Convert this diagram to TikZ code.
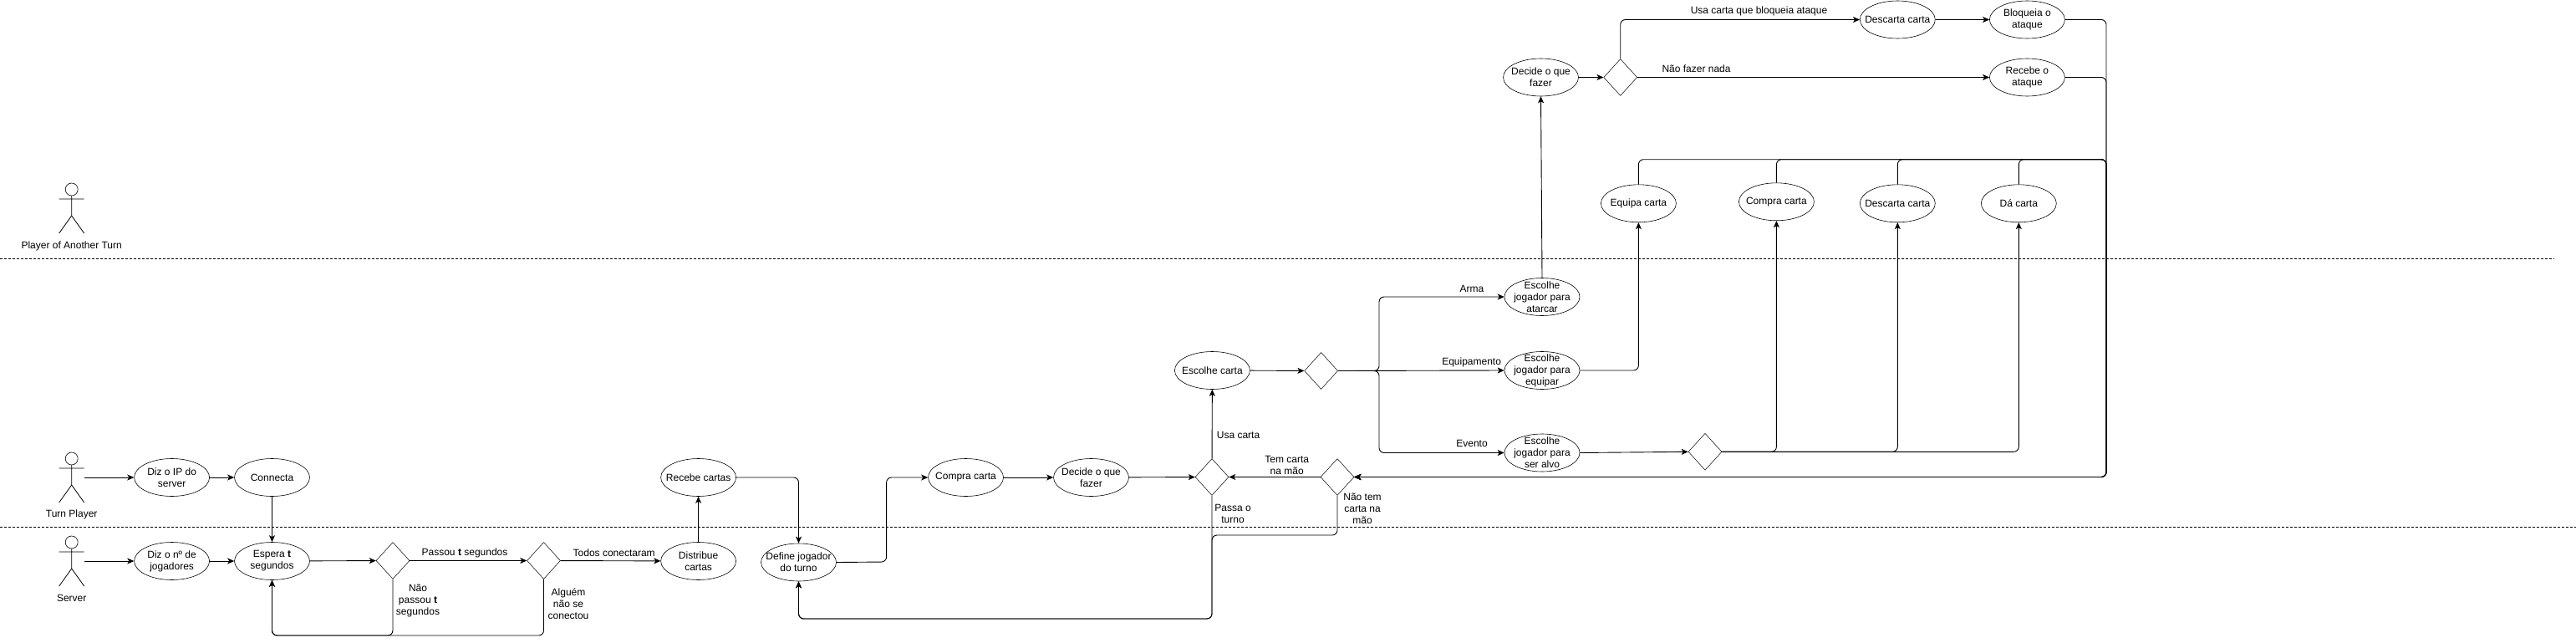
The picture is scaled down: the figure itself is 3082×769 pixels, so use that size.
\documentclass[tikz,border=0pt]{standalone}
\usepackage{fontspec}
\setmainfont{Liberation Sans}
\usetikzlibrary{shapes.geometric,arrows.meta}
\tikzset{
  act/.style={draw,ellipse,minimum width=90bp,minimum height=45bp,inner sep=-15bp,align=center,line width=0.6bp},
  dec/.style={draw,diamond,minimum width=40bp,minimum height=44bp,inner sep=0pt,line width=0.5bp},
  lbl/.style={align=center,inner sep=0pt},
  sep/.style={dashed,dash pattern=on 3bp off 2bp,line width=0.7bp},
  link/.style={->,line width=0.9bp,rounded corners=6bp},
  actor/.pic={
    \draw[line width=0.6bp] (0,7.5) circle[radius=7.5bp];
    \draw[line width=0.8bp] (0,15) -- (0,39) (-15,19) -- (15,19) (-15,60) -- (0,39) -- (15,60);
  },
}
\begin{document}
\begin{tikzpicture}[x=1bp,y=-1bp,>={Stealth[length=8bp,width=7bp,inset=2bp]},line join=bevel,every node/.style={font=\fontsize{12bp}{14bp}\selectfont}]
\useasboundingbox (0,0) rectangle (3082,769);
%%
\draw[sep] (0,309) -- (3056,309);
\draw[sep] (0,630) -- (3082,630);
% actors
\pic at (85.7,219) {actor};
\pic at (85.7,541) {actor};
\pic at (85.7,641) {actor};
\node (lblother) at (85.7,294) [lbl] {Player of Another Turn};
\node (lblturn) at (85.7,615) [lbl] {Turn Player};
\node (lblserver) at (85.7,715) [lbl] {Server};
\coordinate (turn) at (101,571);
\coordinate (server) at (101,671);
% lower rows
\node (dizip) at (205.6,571) [act] {Diz o IP do\\server};
\node (connecta) at (325.5,571) [act] {Connecta};
\node (diznum) at (205.6,671) [act] {Diz o nº de\\jogadores};
\node (espera) at (325.5,671) [act] {Espera \textbf{t}\\segundos};
\node (passou) at (470,670.5) [dec] {};
\node (todos) at (650.5,670.5) [dec] {};
\node (distribue) at (835.6,671) [act] {Distribue\\cartas};
\node (recebe) at (835.6,571) [act] {Recebe cartas};
\node (define) at (955.5,672.5) [act] {Define jogador\\do turno};
\node (compra) at (1155.5,571) [act] {Compra carta};
\node (decide) at (1305.5,571) [act] {Decide o que\\fazer};
\node (acao) at (1450,570.5) [dec] {};
\node (mao) at (1600,570.5) [dec] {};
\node (escolhe) at (1450.4,443) [act] {Escolhe carta};
\node (tipo) at (1580.6,443.5) [dec] {};
\node (atacar) at (1845,355) [act] {Escolhe\\jogador para\\atarcar};
\node (equipar) at (1845,443) [act] {Escolhe\\jogador para\\equipar};
\node (alvo) at (1845,541.5) [act] {Escolhe\\jogador para\\ser alvo};
\node (evento) at (2040,540.3) [dec] {};
% upper rows
\node (equipa) at (1960.4,243.3) [act] {Equipa carta};
\node (comprab) at (2125.4,241.3) [act] {Compra carta};
\node (descartab) at (2270.3,243.3) [act] {Descarta carta};
\node (dacarta) at (2415.3,243.3) [act] {Dá carta};
\node (decideb) at (1843.5,92.5) [act] {Decide o que\\fazer};
\node (defesa) at (1938.7,92.5) [dec] {};
\node (descarta) at (2270.3,23.5) [act] {Descarta carta};
\node (bloqueia) at (2425.4,23.5) [act] {Bloqueia o\\ataque};
\node (ataque) at (2425.4,92.5) [act] {Recebe o\\ataque};
% connectors
\draw [link] (turn) -- (dizip);
\draw [link] (dizip) -- (connecta);
\draw [link] (connecta) -- (espera);
\draw [link] (server) -- (diznum);
\draw [link] (diznum) -- (espera);
\draw [link] (espera) -- (passou);
\draw [link] (passou) -- (todos);
\draw [link] (todos) -- (distribue);
\draw [link] (passou.south) -- (470,760) -- (325.5,760) -- (espera.south);
\draw [link] (todos.south) -- (650.5,760) -- (325.5,760) -- (espera.south);
\draw [link] (distribue) -- (recebe);
\draw [link] (recebe.east) -- (955.5,571) -- (define.north);
\draw [link] (define.east) -- (1060.6,672) -- (1060.6,571) -- (compra.west);
\draw [link] (compra) -- (decide);
\draw [link] (decide) -- (acao);
\draw [link] (mao) -- (acao);
\draw [link] (acao) -- (escolhe);
\draw [link] (acao.south) -- (1450,740) -- (955.5,740) -- (define.south);
\draw [link] (mao.south) -- (1600,640) -- (1450,640) -- (1450,740) -- (955.5,740) -- (define.south);
\draw [link] (escolhe) -- (tipo);
\draw [link] (tipo.east) -- (1650,443.5) -- (1650,355) -- (atacar.west);
\draw [link] (tipo.east) -- (equipar.west);
\draw [link] (tipo.east) -- (1650,443.5) -- (1650,541.5) -- (alvo.west);
\draw [link] (atacar.north) -- (decideb.south);
\draw [link] (equipar.east) -- (1960.4,443) -- (equipa.south);
\draw [link] (alvo.east) -- (evento.west);
\foreach \nm in {comprab,descartab,dacarta}
  \draw [link] (evento.east) -| (\nm.south);
\foreach \nm in {equipa,comprab,descartab,dacarta}
  \draw [link] (\nm.north) |- (2520,190.7) -- (2520,570.5) -- (mao.east);
\draw [link] (decideb) -- (defesa);
\draw [link] (defesa.north) |- (descarta.west);
\draw [link] (defesa) -- (ataque);
\draw [link] (descarta) -- (bloqueia);
\draw [link] (bloqueia.east) -- (2520,23.5) -- (2520,570.5) -- (mao.east);
\draw [link] (ataque.east) -- (2520,92.5) -- (2520,570.5) -- (mao.east);
% labels
\node (lblpassou) at (556,661) [lbl] {Passou \textbf{t} segundos};
\node (lbltodos) at (734.7,661.7) [lbl] {Todos conectaram};
\node (lblnao) at (500,718) [lbl] {Não\\passou \textbf{t}\\segundos};
\node (lblalguem) at (680,722) [lbl] {Alguém\\não se\\conectou};
\node (lblusa) at (1481.5,520.7) [lbl] {Usa carta};
\node (lbltem) at (1539.7,556) [lbl] {Tem carta\\na mão};
\node (lblpassa) at (1475,614) [lbl] {Passa o\\turno};
\node (lblnaotem) at (1630,608) [lbl] {Não tem\\carta na\\mão};
\node (lblarma) at (1761,345.7) [lbl] {Arma};
\node (lblequip) at (1760.6,433.7) [lbl] {Equipamento};
\node (lblevento) at (1761,530.7) [lbl] {Evento};
\node (lblbloq) at (2104.5,13.7) [lbl] {Usa carta que bloqueia ataque};
\node (lblnada) at (2029.5,82.7) [lbl] {Não fazer nada};
%
\end{tikzpicture}
\end{document}
